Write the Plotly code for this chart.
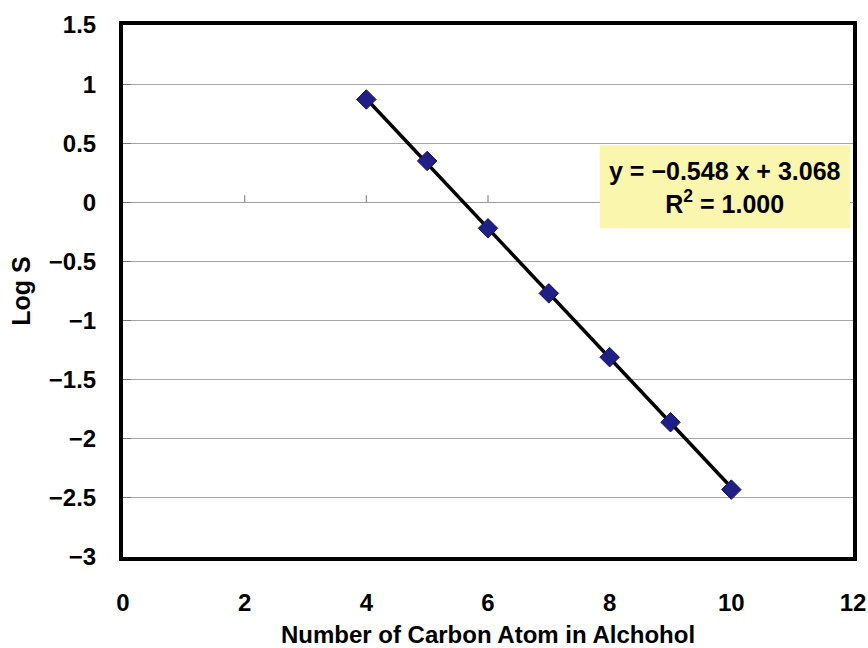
import plotly.graph_objects as go

# Carbon count of each alcohol and its log solubility
carbon_atoms = [4, 5, 6, 7, 8, 9, 10]
log_s = [0.87, 0.35, -0.22, -0.77, -1.31, -1.86, -2.43]

# Linear fit reported in the label
slope = -0.548
intercept = 3.068
r_squared = 1.000

x_ticks = [0, 2, 4, 6, 8, 10, 12]
y_ticks = [1.5, 1, 0.5, 0, -0.5, -1, -1.5, -2, -2.5, -3]
y_tick_text = ["1.5", "1", "0.5", "0", "\u22120.5", "\u22121", "\u22121.5", "\u22122", "\u22122.5", "\u22123"]

FONT = "Liberation Sans, Arial, sans-serif"

fit_x = [carbon_atoms[0], carbon_atoms[-1]]
fit_y = [slope * v + intercept for v in fit_x]

fig = go.Figure()
fig.add_trace(go.Scatter(
    x=fit_x, y=fit_y, mode="lines",
    line=dict(color="black", width=3.5),
    showlegend=False,
))
fig.add_trace(go.Scatter(
    x=carbon_atoms, y=log_s, mode="markers",
    marker=dict(symbol="diamond", size=15, color="#1f1f86",
                line=dict(color="#141460", width=1)),
    showlegend=False,
))

# small tick marks along the y = 0 line
shapes = []
for tx in x_ticks[1:-1]:
    shapes.append(dict(type="line", xref="x", yref="y", x0=tx, x1=tx,
                       ysizemode="pixel", yanchor=0, y0=0, y1=7,
                       line=dict(color="#8a8a8a", width=1.2), layer="below"))

# equation box
shapes.append(dict(type="rect", xref="paper", yref="paper",
                   x0=0.653, x1=0.996, y0=0.618, y1=0.774,
                   fillcolor="#fbf6ad", line=dict(width=0), layer="above"))
fig.add_annotation(
    xref="paper", yref="paper", x=0.8245, y=0.694,
    xanchor="center", yanchor="middle",
    text=f"y = \u2212{abs(slope):.3f} x + {intercept:.3f}<br>R<sup>2</sup> = {r_squared:.3f}",
    showarrow=False, align="center",
    font=dict(family=FONT, size=25, color="black", weight="bold"),
)

fig.update_layout(
    width=868, height=648,
    margin=dict(l=123, r=15, t=25, b=91),
    paper_bgcolor="white", plot_bgcolor="white",
    shapes=shapes,
    font=dict(family=FONT, color="black"),
)
fig.update_xaxes(
    range=[0, 12], tickvals=x_ticks, ticks="", automargin=False,
    showline=True, mirror=True, linewidth=4, linecolor="black",
    showgrid=False, zeroline=False, ticklabelstandoff=21,
    tickfont=dict(size=24, weight="bold"),
    title=dict(text="Number of Carbon Atom in Alchohol",
               font=dict(size=24, weight="bold"), standoff=12),
)
fig.update_yaxes(
    range=[-3, 1.5], tickvals=y_ticks, ticktext=y_tick_text,
    ticks="inside", ticklen=8, tickcolor="#777777", tickwidth=1,
    automargin=False, ticklabelstandoff=18,
    showline=True, mirror=True, linewidth=4, linecolor="black",
    showgrid=True, gridcolor="#a5a5a5", gridwidth=1.2,
    zeroline=True, zerolinecolor="#a09aa5", zerolinewidth=1.2,
    tickfont=dict(size=24, weight="bold"),
    title=dict(text="Log S", font=dict(size=25, weight="bold"), standoff=12),
)

fig.write_html("out.html")
